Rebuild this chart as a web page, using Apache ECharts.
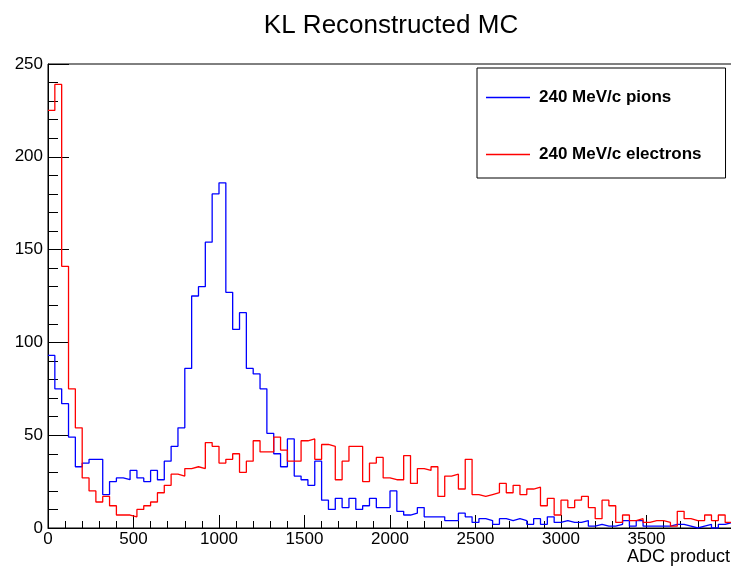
<!DOCTYPE html>
<html>
<head>
<meta charset="utf-8">
<title>KL Reconstructed MC</title>
<script src="https://cdn.jsdelivr.net/npm/echarts@6/dist/echarts.min.js"></script>
<style>
  html, body { margin: 0; padding: 0; background: #ffffff; }
  #chart { width: 731px; height: 570px; }
</style>
</head>
<body>
<div id="chart"></div>
<script>
// Histogram binning: 100 bins of 40 ADC counts each, from 0 to 4000
const binWidth = 40;
const xRange = [0, 4000];
const yRange = [0, 250];

// Entries per bin, 240 MeV/c pions
const pionCounts = [
  93, 75, 67, 49, 33, 35, 37, 37, 18, 25,
  27, 26, 31, 27, 25, 31, 26, 36, 44, 54,
  86, 125, 130, 154, 180, 186, 127, 107, 116, 86,
  83, 75, 51, 40, 33, 48, 28, 26, 23, 36,
  15, 10, 16, 11, 16, 10, 12, 16, 11, 11,
  20, 9, 7, 8, 11, 6, 6, 6, 4, 4,
  8, 6, 3, 5, 4, 2, 5, 4, 5, 4,
  2, 5, 2, 6, 3, 4, 3, 3, 4, 1,
  2, 1, 1, 2, 4, 1, 4, 1, 1, 1,
  1, 2, 2, 1, 0, 1, 2, 0, 2, 3
];

// Entries per bin, 240 MeV/c electrons
const electronCounts = [
  225, 239, 141, 75, 54, 27, 20, 14, 17, 12,
  7, 7, 6, 10, 12, 14, 19, 23, 29, 28,
  32, 33, 32, 46, 44, 35, 37, 40, 30, 36,
  47, 41, 41, 49, 42, 36, 36, 47, 48, 37,
  45, 44, 26, 36, 44, 44, 25, 35, 38, 27,
  26, 26, 39, 24, 32, 31, 33, 17, 28, 29,
  21, 37, 18, 17, 18, 19, 24, 19, 23, 18,
  21, 22, 12, 16, 7, 15, 11, 15, 17, 11,
  5, 15, 12, 3, 7, 4, 5, 3, 4, 4,
  3, 1, 9, 5, 4, 4, 7, 4, 7, 3
];

const seriesNames = ['240 MeV/c pions', '240 MeV/c electrons'];
const seriesColors = ['#0000ff', '#ff0000'];
const chartTitle = 'KL Reconstructed MC';
const xAxisTitle = 'ADC product';
const xTickStep = 500;
const yTickStep = 50;

const FONT = '"Liberation Sans", Arial, Helvetica, sans-serif';

// Turn bin contents into step points at the bin low edges, closing the last bin
function histogramSteps(counts) {
  const pts = counts.map((c, i) => [i * binWidth, c]);
  pts.push([counts.length * binWidth, counts[counts.length - 1]]);
  return pts;
}

const histograms = [pionCounts, electronCounts];

const chart = echarts.init(document.getElementById('chart'), null, { renderer: 'canvas' });

chart.setOption({
  animation: false,
  backgroundColor: '#ffffff',
  color: seriesColors,
  title: {
    text: chartTitle,
    left: 391,
    textAlign: 'center',
    top: 13,
    padding: 0,
    textStyle: { fontFamily: FONT, fontSize: 26, fontWeight: 'normal', color: '#000' }
  },
  legend: {
    orient: 'vertical',
    left: 477,
    top: 68,
    padding: [21, 24, 15, 9],
    itemWidth: 44,
    itemHeight: 1.5,
    itemGap: 40,
    borderColor: '#000',
    borderWidth: 1,
    backgroundColor: '#ffffff',
    selectedMode: false,
    data: seriesNames.map((n, i) => ({
      name: n,
      icon: 'rect',
      itemStyle: { color: seriesColors[i], borderColor: seriesColors[i], borderWidth: 0, opacity: 1 }
    })),
    textStyle: {
      fontFamily: FONT, fontSize: 17, fontWeight: 'bold', color: '#000',
      lineHeight: 16,
      padding: [0, 0, 0, 4]
    }
  },
  grid: {
    left: 48,
    top: 64,
    right: -1,
    bottom: 42,
    outerBoundsMode: 'none',
    containLabel: false,
    show: true,
    borderColor: '#000',
    borderWidth: 1,
    backgroundColor: 'transparent'
  },
  // x-axis title, sitting below the tick labels at the right end of the axis
  graphic: [{
    type: 'text',
    left: 627,
    top: 548,
    silent: true,
    style: { text: xAxisTitle, font: '18px ' + FONT, fill: '#000' }
  }],
  xAxis: {
    type: 'value',
    min: xRange[0],
    max: xRange[1],
    interval: xTickStep,
    axisLine: { show: true, lineStyle: { color: '#000', width: 1 } },
    axisTick: { show: true, inside: true, length: 13, lineStyle: { color: '#000', width: 1 } },
    minorTick: { show: true, splitNumber: 5, length: 7, lineStyle: { color: '#000', width: 1 } },
    axisLabel: {
      showMaxLabel: false,
      margin: 3,
      formatter: v => String(v),
      fontFamily: FONT, fontSize: 17, color: '#000'
    },
    splitLine: { show: false },
    minorSplitLine: { show: false }
  },
  yAxis: {
    type: 'value',
    min: yRange[0],
    max: yRange[1],
    interval: yTickStep,
    axisLine: { show: true, lineStyle: { color: '#000', width: 1 } },
    axisTick: { show: true, inside: true, length: 21, lineStyle: { color: '#000', width: 1 } },
    minorTick: { show: true, splitNumber: 5, length: 10, lineStyle: { color: '#000', width: 1 } },
    axisLabel: {
      margin: 5,
      formatter: v => String(v),
      fontFamily: FONT, fontSize: 17, color: '#000'
    },
    splitLine: { show: false },
    minorSplitLine: { show: false }
  },
  series: histograms.map((counts, i) => ({
    name: seriesNames[i],
    type: 'line',
    step: 'end',
    data: histogramSteps(counts),
    symbol: 'none',
    showSymbol: false,
    itemStyle: { color: seriesColors[i] },
    lineStyle: { color: seriesColors[i], width: 1.3 },
    z: 2 + i
  }))
});
</script>
</body>
</html>
